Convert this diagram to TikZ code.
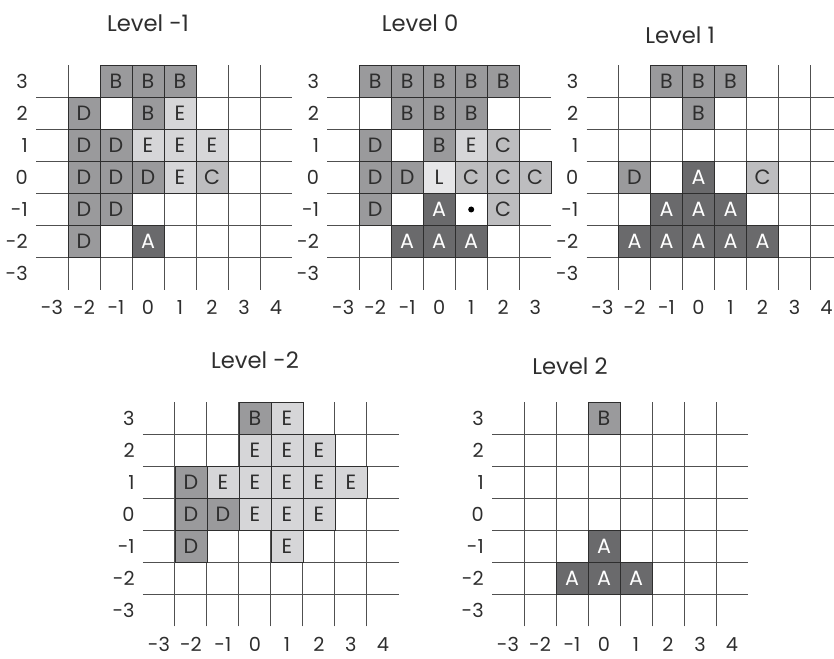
\documentclass[tikz,border=0pt]{standalone}
\usepackage{fontspec}
\setmainfont{Poppins}
\usepackage{xcolor}
\usepackage{tikz}
\definecolor{cellmid}{HTML}{9A9A9C}
\definecolor{celllight}{HTML}{D6D6D8}
\definecolor{cellc}{HTML}{BDBDBF}
\definecolor{cellpale}{HTML}{E6E6E8}
\definecolor{celldark}{HTML}{6A6A6C}
\definecolor{gridgray}{HTML}{505050}
\definecolor{inkgray}{HTML}{2E2E2E}

\tikzset{
  cell/.style={draw=inkgray,line width=0.6pt,minimum size=24pt,inner sep=0pt,
    font=\fontsize{15.5}{18}\selectfont,text=inkgray},
  cellB/.style={cell,fill=cellmid},
  cellD/.style={cell,fill=cellmid},
  cellE/.style={cell,fill=celllight},
  cellC/.style={cell,fill=cellc},
  cellL/.style={cell,fill=cellpale},
  cellA/.style={cell,fill=celldark,text=white},
  gridline/.style={gridgray,line width=0.7pt},
  rowlab/.style={anchor=east,inner sep=0pt,font=\fontsize{14.5}{17}\selectfont,text=inkgray},
  collab/.style={inner sep=0pt,font=\fontsize{14.5}{17}\selectfont,text=inkgray},
  levtitle/.style={inner sep=0pt,font=\fontsize{17}{20}\selectfont,text=inkgray}
}

\newcommand{\levgrid}[2]{%
  \foreach \c in {-3,...,#2}{
    \node[collab] (#1-col\c) at (\c,-4.06) {\c};
  }
  \foreach \r in {-3,...,3}{
    \node[rowlab] (#1-row\r) at (-3.75,\r) {\r};
  }
  \pgfmathtruncatemacro{\lastv}{#2-1}
  \foreach \c in {-3,...,\lastv}{
    \draw[gridline] (\c+0.5,-3.5) -- (\c+0.5,3.5);
  }
  \foreach \r in {-3,...,2}{
    \draw[gridline] (-3.5,\r+0.5) -- (#2+0.5,\r+0.5);
  }
}

\begin{document}
\begin{tikzpicture}[x=0.75pt,y=-0.75pt]
  \useasboundingbox (0,0) rectangle (834,659);

  \node[levtitle] (tm1) at (148,23) {Level -1};
  \node[levtitle] (t0) at (420,23) {Level 0};
  \node[levtitle] (t1) at (680,35) {Level 1};
  \node[levtitle] (tm2) at (255,360) {Level -2};
  \node[levtitle] (t2) at (570,366) {Level 2};

  \begin{scope}[shift={(148,177.5)},x=24pt,y=24pt]
    \levgrid{lvm1}{4}
    \foreach \c/\r/\t in {-1/3/B,0/3/B,1/3/B,
        -2/2/D,0/2/B,1/2/E,
        -2/1/D,-1/1/D,0/1/E,1/1/E,2/1/E,
        -2/0/D,-1/0/D,0/0/D,1/0/E,2/0/C,
        -2/-1/D,-1/-1/D,
        -2/-2/D,0/-2/A}{
      \node[cell\t] (lvm1-c\c-r\r) at (\c,\r) {\t};
    }
  \end{scope}

  \begin{scope}[shift={(439.2,177.5)},x=24pt,y=24pt]
    \levgrid{lv0}{3}
    \foreach \c/\r/\t in {-2/3/B,-1/3/B,0/3/B,1/3/B,2/3/B,
        -1/2/B,0/2/B,1/2/B,
        -2/1/D,0/1/B,1/1/E,2/1/C,
        -2/0/D,-1/0/D,0/0/L,1/0/C,2/0/C,3/0/C,
        -2/-1/D,0/-1/A,2/-1/C,
        -1/-2/A,0/-2/A,1/-2/A}{
      \node[cell\t] (lv0-c\c-r\r) at (\c,\r) {\t};
    }
    \node[circle,fill=black,inner sep=0pt,minimum size=4.5pt] (lv0-dot) at (1,-1) {};
  \end{scope}

  \begin{scope}[shift={(698.5,177.5)},x=24pt,y=24pt]
    \levgrid{lv1}{4}
    \foreach \c/\r/\t in {-1/3/B,0/3/B,1/3/B,
        0/2/B,
        -2/0/D,0/0/A,2/0/C,
        -1/-1/A,0/-1/A,1/-1/A,
        -2/-2/A,-1/-2/A,0/-2/A,1/-2/A,2/-2/A}{
      \node[cell\t] (lv1-c\c-r\r) at (\c,\r) {\t};
    }
  \end{scope}

  \begin{scope}[shift={(254.9,514.3)},x=24pt,y=24pt]
    \levgrid{lvm2}{4}
    \foreach \c/\r/\t in {0/3/B,1/3/E,
        0/2/E,1/2/E,2/2/E,
        -2/1/D,-1/1/E,0/1/E,1/1/E,2/1/E,3/1/E,
        -2/0/D,-1/0/D,0/0/E,1/0/E,2/0/E,
        -2/-1/D,1/-1/E}{
      \node[cell\t] (lvm2-c\c-r\r) at (\c,\r) {\t};
    }
  \end{scope}

  \begin{scope}[shift={(604,514.3)},x=24pt,y=24pt]
    \levgrid{lv2}{4}
    \foreach \c/\r/\t in {0/3/B,
        0/-1/A,
        -1/-2/A,0/-2/A,1/-2/A}{
      \node[cell\t] (lv2-c\c-r\r) at (\c,\r) {\t};
    }
  \end{scope}
\end{tikzpicture}
\end{document}
